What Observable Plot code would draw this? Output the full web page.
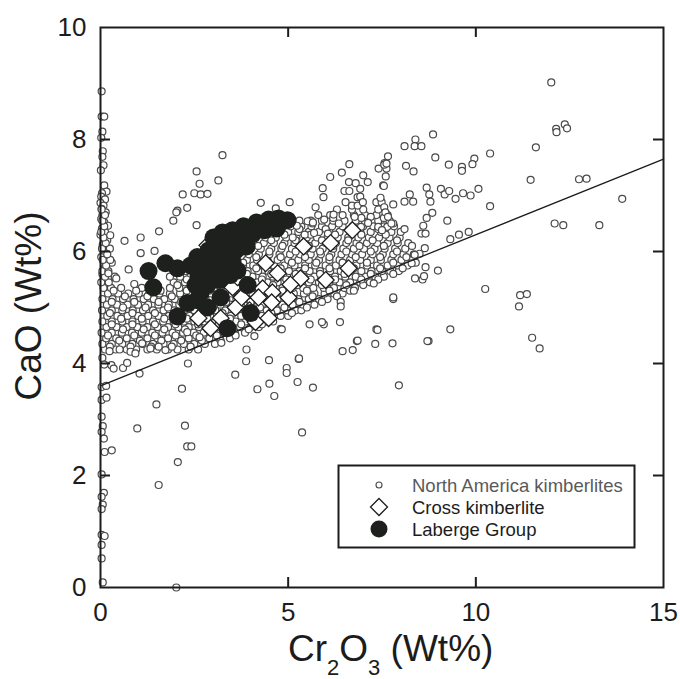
<!DOCTYPE html>
<html>
<head>
<meta charset="utf-8">
<script src="https://cdn.jsdelivr.net/npm/d3@7"></script>
<script src="https://cdn.jsdelivr.net/npm/@observablehq/plot@0.6"></script>
<style>
  html, body { margin: 0; padding: 0; background: #fff; }
  svg { display: block; }
</style>
</head>
<body>
<div id="chart"></div>
<script>
// ---- Data ----
const xTicks = [0, 5, 10, 15];
const yTicks = [0, 2, 4, 6, 8, 10];
const xInnerTicks = [5, 10];
const yInnerTicks = [2, 4, 6, 8];

const trendX = [0, 15];
const trendY = [3.6, 7.65];

const legendLabels = ["North America kimberlites", "Cross kimberlite", "Laberge Group"];

// North America kimberlites: points along the y axis
const naAxis = [
 [0.03,8.86],[0.03,8.41],[0.1,8.41],[0.05,8.14],[0.02,8.03],[0.06,7.79],[0.05,7.69],[0.08,7.54],[0.01,7.45],
 [0.1,7.18],[0.16,7.07],[0.04,7.04],[0.02,6.98],[0.12,6.93],[0.0,6.87],[0.08,6.82],[0.03,6.76],[0.14,6.7],
 [0.05,6.64],[0.02,6.58],[0.1,6.52],[0.2,6.46],[0.04,6.41],[0.12,6.35],[0.0,6.3],[0.18,6.2],[0.06,6.12],
 [0.25,6.05],[0.1,5.98],[0.02,5.9],[0.3,5.8],[0.12,5.72],[0.05,5.6],[0.22,5.5],[0.08,5.4],
 [0.05,4.1],[0.1,3.98],[0.03,3.58],[0.15,3.6],[0.03,3.35],[0.16,3.39],[0.03,3.05],[0.06,2.88],[0.03,2.78],
 [0.09,2.66],[0.11,2.42],[0.3,2.45],[0.03,2.02],[0.09,1.69],[0.03,1.62],[0.06,1.48],[0.03,1.40],[0.03,0.94],
 [0.11,0.92],[0.03,0.76],[0.03,0.52],[0.06,0.09]
];

// North America kimberlites: the dense band, row by row [CaO, [Cr2O3 ...]]
const naBandRows = [
 [4.25,[0.12,0.4,0.7,0.95,1.25,1.5,1.8,2.05,2.35,2.6]],
 [4.35,[0.05,0.3,0.58,0.85,1.12,1.4,1.68,1.95,2.22,2.5,2.78,3.05]],
 [4.45,[0.15,0.42,0.7,0.98,1.25,1.52,1.8,2.08,2.35,2.62,2.9,3.18,3.45]],
 [4.55,[0.03,0.3,0.57,0.84,1.1,1.38,1.65,1.92,2.2,2.48,2.75,3.02,3.3,3.58,3.85]],
 [4.65,[0.16,0.43,0.7,0.98,1.25,1.52,1.8,2.07,2.35,2.62,2.9,3.17,3.45,3.72,4.0,4.22]],
 [4.75,[0.05,0.3,0.58,0.85,1.12,1.4,1.67,1.95,2.22,2.5,2.77,3.05,3.32,3.6,3.87,4.15,4.4,4.6]],
 [4.85,[0.18,0.45,0.72,1.0,1.27,1.55,1.82,2.1,2.37,2.64,2.92,3.2,3.47,3.75,4.02,4.3,4.57,4.8,5.0]],
 [4.95,[0.04,0.3,0.58,0.86,1.13,1.4,1.68,1.96,2.23,2.5,2.78,3.06,3.33,3.6,3.88,4.16,4.43,4.7,4.98,5.2,5.35]],
 [5.05,[0.17,0.44,0.72,1.0,1.27,1.54,1.82,2.1,2.37,2.65,2.92,3.2,3.47,3.74,4.02,4.3,4.57,4.84,5.12,5.4,5.7]],
 [5.15,[0.05,0.32,0.6,0.88,1.15,1.42,1.7,1.98,2.25,2.52,2.8,3.07,3.35,3.62,3.9,4.17,4.45,4.72,5.0,5.27,5.55,5.82,6.05]],
 [5.25,[0.2,0.47,0.74,1.02,1.3,1.57,1.85,2.12,2.4,2.67,2.95,3.22,3.5,3.77,4.05,4.32,4.6,4.87,5.15,5.42,5.7,5.97,6.22,6.45]],
 [5.35,[0.08,0.28,0.55,1.1,1.85,2.1,2.37,2.65,2.92,3.2,3.47,3.75,4.02,4.3,4.57,4.85,5.12,5.4,5.67,5.95,6.22,6.5,6.78]],
 [5.45,[0.02,0.22,1.95,2.25,2.52,2.8,3.07,3.35,3.62,3.9,4.17,4.45,4.72,5.0,5.27,5.55,5.82,6.1,6.37,6.65,6.92,7.18]],
 [5.55,[0.12,0.38,1.85,2.12,2.4,2.67,2.95,3.22,3.5,3.77,4.05,4.32,4.6,4.87,5.15,5.42,5.7,5.97,6.25,6.52,6.8,7.07,7.32,7.55]],
 [5.65,[0.05,0.21,2.0,2.27,2.55,2.82,3.1,3.37,3.65,3.92,4.2,4.47,4.75,5.02,5.3,5.57,5.85,6.12,6.4,6.67,6.95,7.22,7.5,7.72,7.95]],
 [5.75,[0.15,2.15,2.42,2.7,2.97,3.25,3.52,3.8,4.07,4.35,4.62,4.9,5.17,5.45,5.72,6.0,6.27,6.55,6.82,7.1,7.37,7.65,7.92,8.18]],
 [5.85,[0.06,0.26,2.8,3.07,3.35,3.62,3.9,4.17,4.45,4.72,5.0,5.27,5.55,5.82,6.1,6.37,6.65,6.92,7.2,7.47,7.75,8.02,8.3]],
 [5.95,[0.18,3.12,3.4,3.67,3.95,4.22,4.5,4.77,5.05,5.32,5.6,5.87,6.15,6.42,6.7,6.97,7.25,7.52,7.8,8.07,8.35]],
 [6.05,[0.04,3.45,3.72,4.0,4.27,4.55,4.82,5.1,5.37,5.65,5.92,6.2,6.47,6.75,7.02,7.3,7.57,7.85,8.12]],
 [6.15,[0.14,3.8,4.07,4.35,4.62,4.9,5.17,5.45,5.72,6.0,6.27,6.55,6.82,7.1,7.37,7.65,7.92,8.2]],
 [6.25,[0.08,4.12,4.4,4.67,4.95,5.22,5.5,5.77,6.05,6.32,6.6,6.87,7.15,7.42,7.7,7.97]],
 [6.35,[0.02,4.45,4.72,5.0,5.27,5.55,5.82,6.1,6.37,6.65,6.92,7.2,7.47,7.75,8.0]],
 [6.45,[0.1,4.8,5.07,5.35,5.62,5.9,6.17,6.45,6.72,7.0,7.27,7.55,7.82]],
 [6.55,[0.05,5.3,5.6,5.9,6.2,6.5,6.8,7.1,7.4,7.7]],
 [6.65,[0.12,5.8,6.12,6.45,6.75,7.05,7.35,7.65]],
 [6.75,[0.03,6.3,6.7,7.0,7.4]]
];

// North America kimberlites: extra overlapping points inside the dense band
const naBandFill = [
 [4.30,[0.25,0.8,1.35,1.9,2.4]],
 [4.41,[0.5,1.05,1.62,2.15,2.7,3.2]],
 [4.50,[0.2,0.9,1.45,2.0,2.55,3.1,3.6]],
 [4.61,[0.6,1.15,1.7,2.25,2.85,3.4,3.95]],
 [4.70,[0.3,0.85,1.45,2.0,2.6,3.15,3.75,4.3]],
 [4.80,[0.55,1.1,1.7,2.3,2.85,3.45,4.05,4.5]],
 [4.90,[0.25,0.85,1.45,2.05,2.65,3.25,3.9,4.55,5.1]],
 [5.00,[0.6,1.2,1.8,2.4,3.0,3.6,4.25,4.9,5.5]],
 [5.10,[0.3,0.9,1.55,2.15,2.75,3.35,4.0,4.6,5.3,5.9]],
 [5.20,[0.65,1.25,1.9,2.5,3.1,3.75,4.4,5.05,5.65,6.3]],
 [5.30,[0.35,0.95,1.6,2.3,2.9,3.55,4.2,4.85,5.5,6.1,6.65]],
 [5.40,[2.05,2.7,3.3,3.95,4.6,5.25,5.9,6.55,7.0]],
 [5.50,[2.3,3.0,3.65,4.3,4.95,5.6,6.25,6.95,7.4]],
 [5.60,[2.6,3.25,3.9,4.55,5.2,5.85,6.5,7.2,7.8]],
 [5.70,[2.85,3.5,4.15,4.8,5.45,6.1,6.75,7.45,8.05]],
 [5.80,[3.15,3.8,4.45,5.1,5.75,6.45,7.1,7.8,8.4]],
 [5.90,[3.5,4.15,4.8,5.45,6.1,6.8,7.45,8.15]],
 [6.00,[3.85,4.5,5.2,5.85,6.55,7.2,7.9]],
 [6.10,[4.2,4.85,5.55,6.2,6.9,7.55,8.3]],
 [6.20,[4.55,5.2,5.9,6.6,7.25,7.9]],
 [6.30,[4.9,5.6,6.25,6.95,7.6]],
 [6.40,[5.3,6.0,6.7,7.4,8.1]],
 [6.50,[5.65,6.35,7.05,7.8]],
 [6.60,[6.2,6.95,7.55]]
];

// North America kimberlites: scattered points
const naScatter = [
 [3.25,7.72],[2.56,7.43],[2.64,7.21],[3.14,7.27],[2.19,7.02],[2.5,7.04],[2.67,7.02],[2.85,7.03],[2.31,6.78],
 [2.05,6.73],[2.02,6.70],[1.94,6.55],[2.56,6.47],[1.56,6.36],[1.07,6.25],[0.64,6.19],[0.26,6.29],
 [0.42,5.52],[0.75,5.68],[1.07,5.97],[1.44,6.01],[0.21,5.61],[0.9,5.42],
 [4.27,6.87],[4.67,6.77],[5.04,6.88],[5.73,6.79],[6.12,7.33],[6.43,7.41],[6.63,7.56],[5.92,7.13],[5.94,6.97],[6.21,6.66],
 [12.01,9.02],[12.14,8.19],[12.15,8.13],[12.37,8.27],[12.43,8.20],[11.6,7.86],[11.46,7.28],[12.75,7.29],[12.95,7.30],
 [13.9,6.94],[12.1,6.5],[12.33,6.47],[13.29,6.47],[10.38,6.81],[10.38,7.75],[10.07,7.12],[9.96,7.66],[9.91,7.56],
 [9.63,7.51],[9.63,7.44],[9.28,7.55],[8.86,8.09],[8.92,7.68],[8.39,8.0],[8.37,7.88],[8.55,7.88],[8.10,7.88],
 [8.14,7.53],[8.34,7.43],[7.66,7.70],[7.57,7.58],[7.62,7.48],[7.60,7.34],[7.53,7.18],[8.69,7.14],[8.76,7.02],
 [8.79,6.89],[9.07,7.12],[9.17,7.02],[9.29,7.08],[9.46,6.94],[9.66,7.04],[9.86,7.0],[8.24,7.02],[8.33,6.89],
 [8.10,6.89],[8.84,6.69],[9.24,6.55],[8.69,6.6],[8.60,6.46],[8.55,6.32],[8.66,6.32],[8.64,6.06],[8.5,5.96],
 [8.37,5.94],[9.32,6.22],[9.55,6.30],[9.81,6.35],
 [7.8,5.15],[10.25,5.33],[11.18,5.22],[11.36,5.24],[11.15,5.02],[9.32,4.61],[8.74,4.40],[11.5,4.46],[11.7,4.27],
 [7.95,3.61],[8.99,5.66],[8.38,5.52],[8.58,5.50],[8.62,5.56],[8.66,5.72],[8.29,5.79],
 [6.62,7.24],[6.80,7.22],[6.5,7.08],[6.63,7.08],[6.92,7.12],[7.0,7.36],[7.12,7.24],[6.85,6.97],[6.92,6.98],
 [6.53,6.88],[6.7,6.82],[6.85,6.82],[6.99,6.88],[6.77,6.62],[7.2,6.62],[7.41,7.48],[7.56,7.55],[7.62,7.57],
 [7.55,7.17],[7.35,6.88],[7.49,6.88],[7.46,6.96],[7.80,6.84],[7.56,6.79],[7.59,6.70],[7.66,6.62],[7.64,6.44],
 [7.13,6.51],[6.94,6.44],[7.4,6.44],[7.5,6.38],[7.75,6.5],[6.06,6.32],[5.96,6.57],[5.52,6.54],[5.66,6.52],
 [5.44,6.30],[5.69,6.33],[5.23,6.46],[5.12,6.25],
 [1.04,3.82],[2.33,4.0],[1.49,3.27],[2.17,3.55],[0.98,2.84],[2.25,2.89],[2.31,2.52],[2.42,2.52],[2.06,2.24],
 [1.55,1.83],[3.59,3.80],[3.88,4.04],[3.89,4.25],[4.49,4.06],[4.50,3.64],[4.63,3.42],[4.18,3.54],[4.96,3.92],
 [4.96,3.83],[5.28,4.08],[5.25,3.67],[5.66,3.57],[5.37,2.77],[4.8,4.62],[5.57,4.70],[5.95,4.70],[6.38,4.74],
 [6.45,4.22],[3.22,4.37],[4.10,4.49],[5.9,4.74],[6.4,5.10],[6.4,5.02],[7.35,4.61],[6.83,4.40],[7.32,4.35],
 [6.72,4.24],[8.71,4.40],[5.29,4.09],[4.83,4.61],[2.02,0.0],
 [6.75,5.3],[7.28,5.43],[7.8,5.18],[7.38,4.6],[7.78,4.36],[6.85,4.41],
 [0.29,3.97],[0.35,3.91],[0.6,3.92],[0.71,4.01],[0.24,4.22],[0.51,4.25],[0.8,4.21],[0.93,4.18],[1.11,4.36],
 [1.33,4.27],[1.55,4.30],[1.73,4.24],[2.31,4.56],[2.64,4.47]
];

// Cross kimberlite
const crossPts = [
 [2.85,6.11],[5.41,6.09],[6.13,6.15],[6.71,6.38],[4.40,5.79],[4.72,5.61],[5.33,5.52],[6.00,5.49],[6.61,5.70],
 [4.32,5.34],[4.58,5.27],[5.01,5.18],[3.44,5.52],[3.60,5.00],[4.13,4.74],[2.93,4.63],[3.20,4.81],[2.61,4.81],
 [3.76,5.18],[3.97,4.95],[3.52,5.36],[5.06,5.41],[4.48,4.81],[4.21,5.18],[4.56,5.09],[3.65,5.54]
];

// Laberge Group
const labergePts = [
 [1.28,5.65],[1.41,5.36],[1.73,5.79],[2.05,5.70],[2.40,5.75],[2.58,5.90],[2.05,4.84],[2.32,5.08],[2.58,5.13],
 [2.66,5.25],[3.20,5.18],[3.38,4.63],[3.92,5.40],[4.00,4.90],[3.65,5.66],[2.85,5.00],
 [3.01,6.25],[3.25,6.34],[3.52,6.38],[3.81,6.45],[4.16,6.52],[4.48,6.57],[4.74,6.59],[4.98,6.56],
 [2.88,6.02],[3.14,6.09],[3.41,6.16],[3.73,6.24],[4.05,6.31],[4.37,6.38],[4.69,6.41],
 [2.74,5.81],[3.01,5.88],[3.28,5.95],[3.60,6.02],[3.89,6.09],
 [2.61,5.59],[2.93,5.63],[3.25,5.74],[3.52,5.81],
 [2.53,5.40],[2.85,5.40],[3.17,5.49],[3.46,5.58]
];

// ---- Build tables ----
const toObj = ([x, y]) => ({x, y});
const rowsToObjs = rows => rows.flatMap(([y, xs]) => xs.map(x => ({x, y})));
const naData = [
  ...naAxis.map(toObj),
  ...rowsToObjs(naBandRows),
  ...rowsToObjs(naBandFill),
  ...naScatter.map(toObj)
];
const crossData = crossPts.map(toObj);
const labergeData = labergePts.map(toObj);
const trendData = trendX.map((x, i) => ({x, y: trendY[i]}));

const W = 680, H = 679;
const mL = 100, mR = 17, mT = 27, mB = 92;
const plotW = W - mL - mR, plotH = H - mT - mB;
const tickLen = 10;
const ink = "#1c1c1c";
const greyInk = "#4a4a4a";

const chart = Plot.plot({
  width: W, height: H,
  marginLeft: mL, marginRight: mR, marginTop: mT, marginBottom: mB,
  style: {fontFamily: "'Liberation Sans', Arial, Helvetica, sans-serif", background: "#fff", color: ink},
  x: {domain: [0, 15]},
  y: {domain: [0, 10]},
  marks: [
    Plot.dot(naData, {x: "x", y: "y", r: 3.5, stroke: greyInk, strokeWidth: 1.2, fill: "#fff"}),
    Plot.line(trendData, {x: "x", y: "y", stroke: ink, strokeWidth: 1.3}),
    Plot.dot(crossData, {x: "x", y: "y", symbol: "diamond2", r: 7.6, stroke: ink, strokeWidth: 1.3, fill: "#fff"}),
    Plot.dot(labergeData, {x: "x", y: "y", r: 9, fill: "#1e201d", stroke: "none"}),
    Plot.frame({stroke: ink, strokeWidth: 2}),
    Plot.tickX(xInnerTicks, {x: d => d, stroke: ink, strokeWidth: 2, insetTop: plotH - tickLen}),
    Plot.tickX(xInnerTicks, {x: d => d, stroke: ink, strokeWidth: 2, insetBottom: plotH - tickLen}),
    Plot.tickY(yInnerTicks, {y: d => d, stroke: ink, strokeWidth: 2, insetRight: plotW - tickLen}),
    Plot.tickY(yInnerTicks, {y: d => d, stroke: ink, strokeWidth: 2, insetLeft: plotW - tickLen}),
    Plot.axisX({ticks: xTicks, tickSize: 0, tickPadding: 15, fontSize: 26, label: null, fill: ink, tickFormat: d => String(d)}),
    Plot.axisY({ticks: yTicks, tickSize: 0, tickPadding: 14, fontSize: 26, label: null, fill: ink, tickFormat: d => String(d)})
  ]
});

document.getElementById("chart").appendChild(chart);

// ---- Axis titles (with subscripts) ----
const svg = d3.select(chart);
const font = "'Liberation Sans', Arial, Helvetica, sans-serif";

const xt = svg.append("text")
  .attr("x", 288).attr("y", 661)
  .attr("text-anchor", "start")
  .attr("font-family", font).attr("font-size", 37).attr("fill", ink);
xt.append("tspan").text("Cr");
xt.append("tspan").attr("font-size", 22).attr("dy", 14).text("2");
xt.append("tspan").attr("dy", -14).text("O");
xt.append("tspan").attr("font-size", 22).attr("dy", 14).text("3");
xt.append("tspan").attr("dy", -14).text("\u00a0(Wt%)");

svg.append("text")
  .attr("transform", "translate(41,306) rotate(-90)")
  .attr("text-anchor", "middle")
  .attr("font-family", font).attr("font-size", 37).attr("fill", ink)
  .text("CaO (Wt%)");

// ---- Legend ----
const lg = svg.append("g").attr("text-anchor", "start");
lg.append("rect").attr("x", 338.5).attr("y", 465.5).attr("width", 296).attr("height", 82)
  .attr("fill", "#fff").attr("stroke", ink).attr("stroke-width", 2);
const rowsY = [485, 507, 529];
lg.append("circle").attr("cx", 379).attr("cy", rowsY[0]).attr("r", 3)
  .attr("fill", "#fff").attr("stroke", greyInk).attr("stroke-width", 1.1);
lg.append("path").attr("d", `M379,${rowsY[1]-8.5}L387.5,${rowsY[1]}L379,${rowsY[1]+8.5}L370.5,${rowsY[1]}Z`)
  .attr("fill", "#fff").attr("stroke", ink).attr("stroke-width", 1.3);
lg.append("circle").attr("cx", 379).attr("cy", rowsY[2]).attr("r", 8.5).attr("fill", "#1e201d");
legendLabels.forEach((t, i) => {
  lg.append("text").attr("x", 412).attr("y", rowsY[i] + 6.6)
    .attr("text-anchor", "start")
    .attr("font-family", font).attr("font-size", 18.5)
    .attr("fill", i === 0 ? "#5a5a5a" : ink)
    .text(t);
});
</script>
</body>
</html>
